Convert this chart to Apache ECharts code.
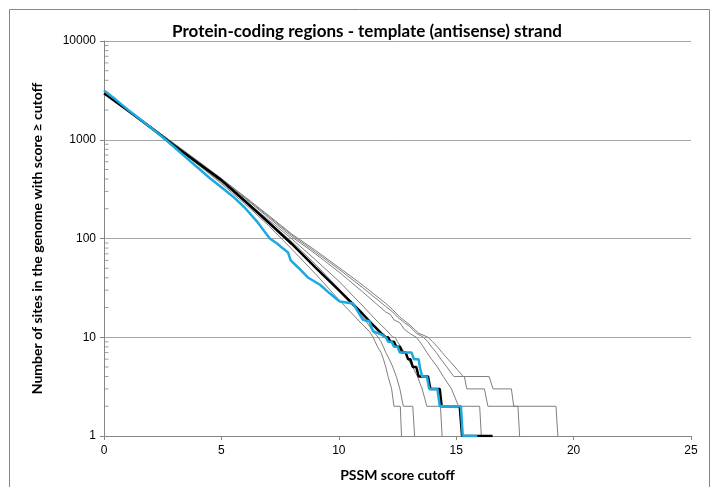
<!DOCTYPE html>
<html>
<head>
<meta charset="utf-8">
<script src="https://cdn.jsdelivr.net/npm/echarts@6/dist/echarts.min.js"></script>
<style>
html,body{margin:0;padding:0;background:#fff;}
#chart{width:718px;height:487px;}
</style>
</head>
<body>
<div id="chart"></div>
<script>
// ---- Data (score cutoff, number of sites) ----
const titleText = 'Protein-coding regions - template (antisense) strand';
const xAxisTitle = 'PSSM score cutoff';
const yAxisTitle = 'Number of sites in the genome with score \u2265 cutoff';
const xTicks = [0, 5, 10, 15, 20, 25];
const yTicks = [1, 10, 100, 1000, 10000];
const minorMultipliers = [2, 3, 4, 5, 6, 7, 8, 9];

const grey1 = [[0,3000],[1,2000],[2,1320],[3,860],[4,560],[5,360],[6,225],[7,136],[8,78],[9,44],[10,24],[11,13.5],[11.3,11.5],[11.46,10],[11.55,9],[11.65,8],[11.8,7],[11.9,6],[12.0,5],[12.1,4],[12.25,3],[12.35,2],[12.62,2],[12.67,1]];
const grey2 = [[0,3000],[1,2000],[2,1330],[3,870],[4,570],[5,370],[6,235],[7,148],[8,93],[9,55],[10,31],[11,16.5],[11.4,12],[11.67,10],[11.8,9],[11.9,8],[12.0,7],[12.15,6],[12.3,5],[12.45,4],[12.6,3],[12.75,2],[13.15,2],[13.23,1]];
const grey3 = [[0,2950],[1,1990],[2,1330],[3,880],[4,580],[5,380],[6,243],[7,155],[8,99],[9,61],[10,37],[11,21],[11.7,14],[12.0,12],[12.3,10],[12.4,10],[12.5,9],[12.65,8],[12.8,7],[12.95,6],[13.15,5],[13.35,4],[13.55,3],[13.75,2],[14.33,2],[14.4,1]];
const grey4 = [[0,3000],[1,2010],[2,1350],[3,900],[4,600],[5,395],[6,255],[7,163],[8,104],[9,70],[10,46],[11,29],[12,18],[12.2,17],[12.35,15],[12.6,14],[12.8,12],[13.0,11],[13.3,10],[13.45,9],[13.6,8],[13.75,7],[13.95,6],[14.2,5],[14.45,4],[14.8,3],[15.1,2],[16.0,2],[16.07,1]];
const grey5 = [[0,3000],[1,2020],[2,1360],[3,905],[4,605],[5,400],[6,260],[7,168],[8,108],[9,73],[10,49],[11,32],[12,20.5],[12.3,18],[12.5,16],[12.8,14],[13,13],[13.3,11],[13.6,10],[13.8,9],[13.95,8],[14.15,7],[14.35,6],[14.6,5],[14.9,4],[15.35,4],[15.45,3],[16.2,3],[16.35,2],[17.63,2],[17.7,1]];
const grey6 = [[0,3000],[1,2020],[2,1360],[3,910],[4,610],[5,405],[6,265],[7,172],[8,111],[9,76],[10,51],[11,34],[12,22],[12.3,19],[12.6,16],[13,13.5],[13.4,11],[13.8,10],[14.0,9],[14.2,8],[14.4,7],[14.65,6],[14.95,5],[15.3,4],[16.4,4],[16.57,3],[17.35,3],[17.45,2],[19.25,2],[19.33,1]];
const blackLine = [[0,2950],[1,1995],[2,1320],[3,870],[4,580],[5,390],[6,240],[7,146],[8,88],[9,51],[10,30],[11,17.4],[11.5,13],[11.8,11],[12.0,10],[12.1,10],[12.2,9],[12.35,9],[12.45,8],[12.6,8],[12.7,7],[12.85,7],[12.95,6],[13.05,6],[13.15,5],[13.3,5],[13.4,4],[13.8,4],[13.9,3],[14.3,3],[14.38,2],[15.15,2],[15.25,1],[16.55,1]];
const blueLine = [[0,3150],[0.5,2550],[1,2030],[1.5,1640],[2,1320],[2.5,1060],[3,840],[3.5,660],[4,520],[4.5,410],[5,330],[5.5,265],[6,205],[6.5,150],[7.06,100],[7.4,88],[7.6,80],[7.84,72],[7.95,60],[8.3,50],[8.7,40],[9.2,34],[9.6,28],[10.04,23],[10.6,22],[11.03,15],[11.3,14.5],[11.46,11.5],[11.8,10.7],[12.0,10],[12.1,9],[12.25,9],[12.35,8],[12.5,8],[12.6,7],[13.1,7],[13.2,6],[13.4,6],[13.45,5],[13.55,4],[13.75,4],[13.85,3],[14.2,3],[14.3,2],[15.2,2],[15.28,1],[15.9,1]];

const greyLines = [grey1, grey2, grey3, grey4, grey5, grey6];

// minor tick positions on the log axis (2..9 x each decade)
const minorTickData = [];
yTicks.slice(0, -1).forEach(d => minorMultipliers.forEach(m => minorTickData.push([0, d * m])));

const FONT = 'Liberation Sans';
const BOLD = 'Lato';

const chart = echarts.init(document.getElementById('chart'), null, {renderer: 'canvas'});

const series = [];
greyLines.forEach((g, i) => {
  series.push({
    name: 'grey' + (i + 1), type: 'line', data: g, symbol: 'none',
    lineStyle: {color: '#7f7f7f', width: 1}, z: 2, silent: true
  });
});
series.push({
  name: 'black', type: 'line', data: blackLine, symbol: 'none',
  lineStyle: {color: '#000000', width: 2.5}, z: 3, silent: true
});
series.push({
  name: 'blue', type: 'line', data: blueLine, symbol: 'none',
  lineStyle: {color: '#1ba9e1', width: 2.5}, z: 4, silent: true
});
series.push({
  name: 'minorTicks', type: 'scatter', data: minorTickData,
  symbol: 'rect', symbolSize: [4, 1], symbolOffset: [2.5, 0],
  itemStyle: {color: '#868686'}, z: 5, silent: true, clip: false
});

chart.setOption({
  animation: false,
  backgroundColor: '#ffffff',
  title: {
    text: titleText, left: 362, top: 18, textAlign: 'center',
    textStyle: {fontFamily: BOLD, fontWeight: 'bold', fontSize: 17, color: '#000'}
  },
  grid: {left: 104, right: 27, top: 41, bottom: 50},
  xAxis: {
    type: 'value', min: 0, max: 25, interval: 5,
    name: xAxisTitle, nameLocation: 'middle', nameGap: 32,
    nameTextStyle: {fontFamily: BOLD, fontWeight: 'bold', fontSize: 14, color: '#000'},
    axisLine: {lineStyle: {color: '#868686'}},
    axisTick: {show: true, length: 4, lineStyle: {color: '#868686'}},
    axisLabel: {fontFamily: FONT, fontSize: 12, color: '#000', margin: 9},
    splitLine: {show: false}
  },
  yAxis: {
    type: 'log', logBase: 10, min: 1, max: 10000,
    name: yAxisTitle, nameLocation: 'middle', nameGap: 60,
    nameTextStyle: {fontFamily: BOLD, fontWeight: 'bold', fontSize: 14, color: '#000'},
    axisLine: {show: true, lineStyle: {color: '#868686'}},
    axisTick: {show: true, length: 4, lineStyle: {color: '#868686'}},
    axisLabel: {fontFamily: FONT, fontSize: 12, color: '#000', margin: 8,
      formatter: v => String(Math.round(v))},
    splitLine: {show: true, lineStyle: {color: '#a6a6a6', width: 1}}
  },
  graphic: [{
    type: 'rect', shape: {x: 9.5, y: 9.5, width: 700, height: 490},
    style: {fill: 'none', stroke: '#868686', lineWidth: 1}, silent: true, z: -1
  }],
  series: series
});
</script>
</body>
</html>
